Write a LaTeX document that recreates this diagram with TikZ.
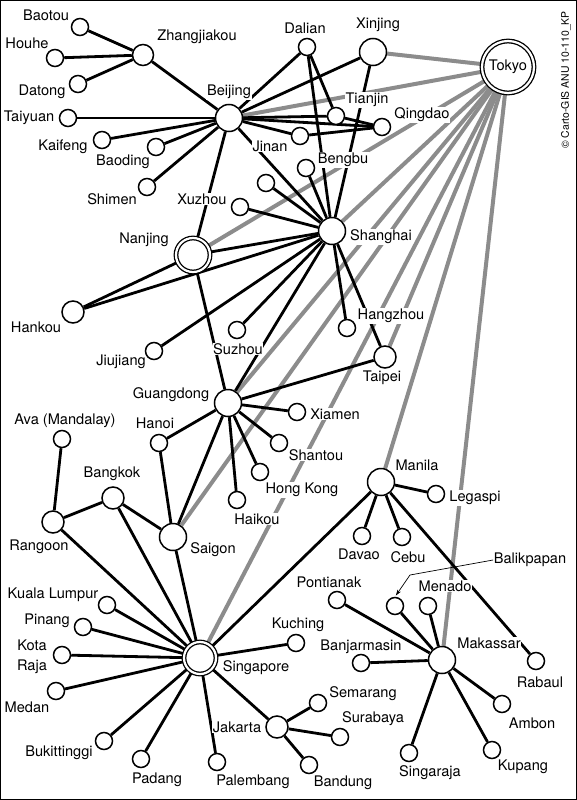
\documentclass[tikz,border=0pt]{standalone}
\usepackage{fontspec}
\setmainfont{TeX Gyre Heros}
\usetikzlibrary{arrows.meta}
\pgfdeclarelayer{grayl}
\pgfdeclarelayer{blackl}
\pgfsetlayers{grayl,blackl,main}
\begin{document}
\begin{tikzpicture}[x=1pt,y=-1pt,
  city/.style={circle,draw,fill=white,line width=1.5pt,inner sep=0pt,minimum size=17pt},
  midcity/.style={city,minimum size=22pt},
  bigcity/.style={city,minimum size=27pt},
  capcity/.style={circle,draw,fill=white,line width=1.3pt,double=white,double distance=2.2pt,inner sep=0pt,minimum size=#1},
  lbl/.style={font=\fontsize{14.6}{20}\selectfont,fill=white,inner sep=0.6pt,align=center},
  rd/.style={line width=2.8pt,black},
  tk/.style={line width=4pt,black!45}]
\useasboundingbox (0,0) rectangle (577,800);
\draw[line width=1.2pt] (0.6,0.6) rectangle (576.4,799.4);
\node[rotate=90,font=\fontsize{10.4}{12}\selectfont,inner sep=0pt] (copy) at (566,80) {© Carto-GIS ANU 10-110\_KP};

% labels
\node[lbl] (lbaotou) at (46,15) {Baotou};
\node[lbl] (lhouhe) at (27,43) {Houhe};
\node[lbl] (ldatong) at (42,92) {Datong};
\node[lbl] (lzhang) at (197,37) {Zhangjiakou};
\node[lbl] (lbeijing) at (229,92) {Beijing};
\node[lbl] (ltaiyuan) at (29,118) {Taiyuan};
\node[lbl] (lkaifeng) at (63,147) {Kaifeng};
\node[lbl] (lbaoding) at (123,162) {Baoding};
\node[lbl] (lshimen) at (112,199) {Shimen};
\node[lbl] (lxuzhou) at (202,199) {Xuzhou};
\node[lbl] (ljinan) at (270,146) {Jinan};
\node[lbl] (ltianjin) at (367,100) {Tianjin};
\node[lbl] (lqingdao) at (422,115) {Qingdao};
\node[lbl] (lbengbu) at (343,160) {Bengbu};
\node[lbl] (ldalian) at (305,28) {Dalian};
\node[lbl] (lxinjing) at (378,25) {Xinjing};
\node[lbl] (lshanghai) at (381,237) {Shanghai};
\node[lbl] (lnanjing) at (144,240) {Nanjing};
\node[lbl] (lhankou) at (36,327) {Hankou};
\node[lbl] (ljiujiang) at (121,362) {Jiujiang};
\node[lbl] (lsuzhou) at (238,349) {Suzhou};
\node[lbl] (lhangzhou) at (391,316) {Hangzhou};
\node[lbl] (ltaipei) at (382,378) {Taipei};
\node[lbl] (lguangdong) at (171,395) {Guangdong};
\node[lbl] (lhanoi) at (155,423) {Hanoi};
\node[lbl] (lava) at (65,421) {Ava (Mandalay)};
\node[lbl] (lbangkok) at (112,474) {Bangkok};
\node[lbl] (lrangoon) at (39,547) {Rangoon};
\node[lbl] (lsaigon) at (213,550) {Saigon};
\node[lbl] (lxiamen) at (335,414) {Xiamen};
\node[lbl] (lshantou) at (316,455) {Shantou};
\node[lbl] (lhongkong) at (302,490) {Hong Kong};
\node[lbl] (lhaikou) at (257,519) {Haikou};
\node[lbl] (lmanila) at (417,465) {Manila};
\node[lbl] (llegaspi) at (475,498) {Legaspi};
\node[lbl] (ldavao) at (359,554) {Davao};
\node[lbl] (lcebu) at (408,557) {Cebu};
\node[lbl] (lbalik) at (530,560) {Balikpapan};
\node[lbl] (lmenado) at (445,586) {Menado};
\node[lbl] (lpontianak) at (329,582) {Pontianak};
\node[lbl] (lmakassar) at (489,643) {Makassar};
\node[lbl] (lrabaul) at (540,682) {Rabaul};
\node[lbl] (lbanjar) at (361,647) {Banjarmasin};
\node[lbl] (lkuching) at (298,625) {Kuching};
\node[lbl] (lambon) at (532,723) {Ambon};
\node[lbl] (lkupang) at (523,767) {Kupang};
\node[lbl] (lsingaraja) at (430,773) {Singaraja};
\node[lbl] (lsemarang) at (363,694) {Semarang};
\node[lbl] (lsurabaya) at (373,719) {Surabaya};
\node[lbl] (lbandung) at (343,783) {Bandung};
\node[lbl] (ljakarta) at (237,727) {Jakarta};
\node[lbl] (lpalembang) at (253,782) {Palembang};
\node[lbl] (lpadang) at (157,780) {Padang};
\node[lbl] (lbukit) at (59,753) {Bukittinggi};
\node[lbl] (lmedan) at (27,707) {Medan};
\node[lbl] (lkotaraja) at (32,657) {Kota\\Raja};
\node[lbl] (lpinang) at (47,621) {Pinang};
\node[lbl] (lkl) at (53,595) {Kuala Lumpur};
\node[lbl] (lsingapore) at (256,668) {Singapore};

% cities
\node[city] (baotou) at (80,27) {};
\node[city] (houhe) at (55,58) {};
\node[city] (datong) at (78,84) {};
\node[city,minimum size=21pt] (zhang) at (143,55) {};
\node[bigcity] (beijing) at (229,118) {};
\node[city] (taiyuan) at (68,118) {};
\node[city] (kaifeng) at (102,140) {};
\node[city] (baoding) at (156,147) {};
\node[city] (shimen) at (147,187) {};
\node[city] (xuzhou) at (240,207) {};
\node[city] (cx) at (266,183) {};
\node[city] (jinan) at (300,136) {};
\node[city] (tianjin) at (336,116) {};
\node[city] (qingdao) at (382,127) {};
\node[city] (bengbu) at (306,168) {};
\node[city] (dalian) at (307,47) {};
\node[bigcity] (xinjing) at (373,52) {};
\node[capcity=52pt,font=\fontsize{14.6}{16}\selectfont] (tokyo) at (508,67) {Tokyo};
\node[bigcity] (shanghai) at (332,231) {};
\node[capcity=34pt] (nanjing) at (193,255) {};
\node[midcity] (hankou) at (73,312) {};
\node[city] (jiujiang) at (154,351) {};
\node[city] (suzhou) at (237,330) {};
\node[city] (hangzhou) at (347,328) {};
\node[midcity] (taipei) at (385,357) {};
\node[bigcity] (guangdong) at (228,403) {};
\node[city] (xiamen) at (297,412) {};
\node[city] (shantou) at (279,443) {};
\node[city] (hongkong) at (260,472) {};
\node[city] (haikou) at (237,500) {};
\node[city] (hanoi) at (159,443) {};
\node[city] (ava) at (62,439) {};
\node[midcity] (bangkok) at (113,498) {};
\node[midcity] (rangoon) at (53,522) {};
\node[bigcity] (saigon) at (173,537) {};
\node[bigcity] (manila) at (381,482) {};
\node[city] (legaspi) at (436,494) {};
\node[city] (davao) at (362,536) {};
\node[city] (cebu) at (402,537) {};
\node[city] (balik) at (395,606) {};
\node[city] (menado) at (428,606) {};
\node[city] (pontianak) at (337,600) {};
\node[bigcity] (makassar) at (442,660) {};
\node[city] (rabaul) at (536,661) {};
\node[city] (banjar) at (361,663) {};
\node[city] (kuching) at (296,643) {};
\node[city] (ambon) at (502,704) {};
\node[city] (kupang) at (492,750) {};
\node[city] (singaraja) at (409,753) {};
\node[city] (semarang) at (318,703) {};
\node[city] (surabaya) at (340,737) {};
\node[city] (bandung) at (309,765) {};
\node[midcity] (jakarta) at (277,727) {};
\node[city] (palembang) at (217,762) {};
\node[city] (padang) at (141,759) {};
\node[city] (bukit) at (104,741) {};
\node[city] (medan) at (56,691) {};
\node[city] (kotaraja) at (62,655) {};
\node[city] (pinang) at (83,627) {};
\node[city] (kl) at (107,605) {};
\node[capcity=32pt] (singapore) at (200,658) {};

\coordinate (bk) at (410,575);
\draw[line width=0.7pt,-{Stealth[length=6pt,width=4pt]},shorten >=1.5pt] (lbalik.west) -- (bk) -- (balik.north);

\begin{pgfonlayer}{grayl}
\foreach \t in {xinjing,beijing,nanjing,shanghai,guangdong,saigon,singapore,taipei,manila,makassar}
  \draw[tk] (tokyo) -- (\t);
\end{pgfonlayer}

\begin{pgfonlayer}{blackl}
\foreach \a/\b in {zhang/baotou,zhang/houhe,zhang/datong,zhang/beijing,
  beijing/taiyuan,beijing/kaifeng,beijing/baoding,beijing/shimen,
  beijing/dalian,beijing/xinjing,beijing/tianjin,beijing/qingdao,beijing/jinan,beijing/shanghai,beijing/nanjing,
  dalian/tianjin,dalian/shanghai,xinjing/shanghai,tianjin/qingdao,jinan/qingdao,
  bengbu/shanghai,xuzhou/shanghai,cx/shanghai,
  nanjing/shanghai,nanjing/hankou,nanjing/guangdong,
  hankou/shanghai,jiujiang/shanghai,suzhou/shanghai,shanghai/hangzhou,shanghai/taipei,shanghai/guangdong,
  taipei/guangdong,guangdong/xiamen,guangdong/shantou,guangdong/hongkong,guangdong/haikou,guangdong/hanoi,guangdong/saigon,
  hanoi/saigon,ava/rangoon,rangoon/bangkok,bangkok/saigon,
  rangoon/singapore,bangkok/singapore,saigon/singapore,
  singapore/kl,singapore/pinang,singapore/kotaraja,singapore/medan,singapore/bukit,singapore/padang,singapore/palembang,singapore/jakarta,singapore/kuching,singapore/manila,
  jakarta/semarang,jakarta/surabaya,jakarta/bandung,
  manila/legaspi,manila/davao,manila/cebu,manila/rabaul,
  makassar/pontianak,makassar/balik,makassar/menado,makassar/banjar,makassar/singaraja,makassar/kupang,makassar/ambon}
  \draw[rd] (\a) -- (\b);
\end{pgfonlayer}
\end{tikzpicture}
\end{document}
